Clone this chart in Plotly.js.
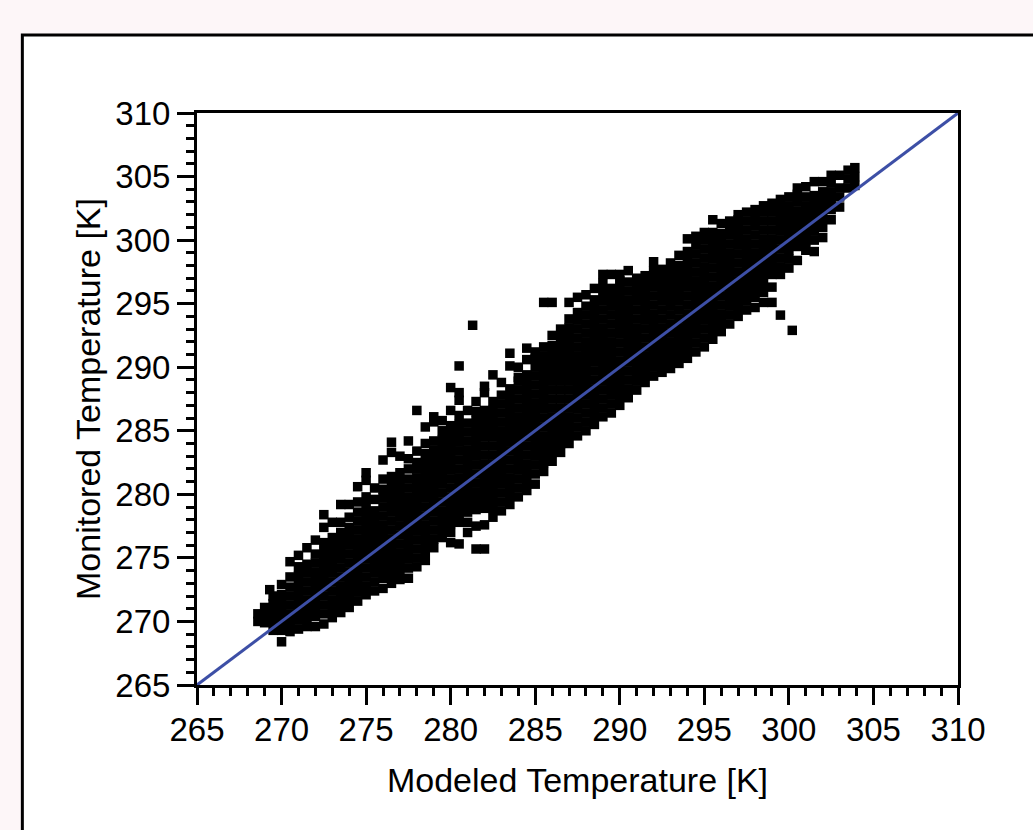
<!DOCTYPE html>
<html>
<head>
<meta charset="utf-8">
<script src="https://cdn.plot.ly/plotly-3.0.1.min.js"></script>
<style>
  html, body { margin: 0; padding: 0; background: #fdf6f8; }
  #chart { width: 1033px; height: 830px; }
</style>
</head>
<body>
<div id="chart"></div>
<script>
// Modeled temperature [K] of each column of points
const modeledColumns = [
  268.6, 269.0, 269.5, 270.0, 270.5, 271.0, 271.5, 272.0, 272.5, 273.0,
  273.5, 274.0, 274.5, 275.0, 275.5, 276.0, 276.5, 277.0, 277.5, 278.0,
  278.5, 279.0, 279.5, 280.0, 280.5, 281.0, 281.5, 282.0, 282.5, 283.0,
  283.5, 284.0, 284.5, 285.0, 285.5, 286.0, 286.5, 287.0, 287.5, 288.0,
  288.5, 289.0, 289.5, 290.0, 290.5, 291.0, 291.5, 292.0, 292.5, 293.0,
  293.5, 294.0, 294.5, 295.0, 295.5, 296.0, 296.5, 297.0, 297.5, 298.0,
  298.5, 299.0, 299.5, 300.0, 300.5, 301.0, 301.5, 302.0, 302.5, 303.0,
  303.5, 303.9
];
// Monitored temperature [K] of the points in each column
const monitoredByColumn = [
  [270.0, 270.6],
  [269.9, 270.6, 271.1],
  [269.3, 270.0, 270.7, 271.4, 272.0],
  [268.4, 269.3, 270.0, 270.7, 271.4, 272.1, 272.9],
  [269.2, 269.9, 270.6, 271.3, 272.0, 272.7, 273.5, 274.7],
  [269.4, 270.1, 270.8, 271.5, 272.2, 272.9, 273.6, 274.3, 275.2],
  [269.6, 270.3, 271.0, 271.7, 272.4, 273.1, 273.8, 274.5, 275.8],
  [269.6, 270.4, 271.1, 271.8, 272.5, 273.2, 273.9, 274.6, 275.3, 276.4],
  [269.8, 270.6, 271.3, 272.0, 272.7, 273.4, 274.1, 274.8, 275.5, 276.2, 277.4, 278.4],
  [270.3, 271.0, 271.7, 272.4, 273.1, 273.8, 274.5, 275.2, 275.9, 276.6, 277.8],
  [270.7, 271.4, 272.1, 272.8, 273.5, 274.2, 274.9, 275.6, 276.3, 277.0, 277.8, 279.2],
  [271.1, 271.8, 272.5, 273.2, 273.9, 274.6, 275.3, 276.0, 276.7, 277.4, 278.2, 279.2],
  [271.6, 272.3, 273.0, 273.7, 274.4, 275.1, 275.8, 276.5, 277.2, 277.9, 278.6, 279.4, 280.6],
  [272.1, 272.8, 273.5, 274.2, 274.9, 275.6, 276.3, 277.0, 277.7, 278.4, 279.1, 279.8, 281.1, 281.7],
  [272.4, 273.1, 273.8, 274.5, 275.2, 275.9, 276.6, 277.3, 278.0, 278.7, 279.6, 280.5],
  [272.6, 273.4, 274.1, 274.8, 275.5, 276.2, 276.9, 277.6, 278.3, 279.0, 279.7, 280.4, 281.2, 282.7],
  [273.0, 273.7, 274.4, 275.1, 275.8, 276.5, 277.2, 277.9, 278.6, 279.3, 280.0, 280.7, 281.4, 283.3, 284.1],
  [273.3, 274.0, 274.7, 275.4, 276.1, 276.8, 277.5, 278.2, 278.9, 279.6, 280.3, 281.0, 281.7, 283.0],
  [273.4, 274.2, 274.9, 275.6, 276.3, 277.0, 277.7, 278.4, 279.1, 279.8, 280.5, 281.2, 282.0, 282.8, 284.2],
  [274.3, 275.0, 275.7, 276.4, 277.1, 277.8, 278.5, 279.2, 279.9, 280.6, 281.3, 282.0, 282.5, 283.4, 286.6],
  [274.8, 275.5, 276.2, 276.9, 277.6, 278.3, 279.0, 279.7, 280.4, 281.1, 281.8, 282.5, 283.2, 284.0, 285.3],
  [275.8, 276.5, 277.2, 277.9, 278.6, 279.3, 280.0, 280.7, 281.4, 282.1, 282.8, 283.5, 284.2, 285.7, 286.1],
  [276.6, 277.3, 278.0, 278.7, 279.4, 280.1, 280.8, 281.5, 282.2, 282.9, 283.6, 284.3, 285.0, 285.8],
  [276.2, 277.0, 277.7, 278.4, 279.1, 279.8, 280.5, 281.2, 281.9, 282.6, 283.3, 284.0, 284.7, 285.4, 286.6, 288.4],
  [276.1, 277.8, 278.5, 279.2, 279.9, 280.6, 281.3, 282.0, 282.7, 283.4, 284.1, 284.8, 285.5, 286.2, 287.4, 288.0, 290.1],
  [277.0, 277.8, 278.6, 279.3, 280.0, 280.7, 281.4, 282.1, 282.8, 283.5, 284.2, 284.9, 285.6, 286.6],
  [275.7, 277.5, 278.8, 279.5, 280.2, 280.9, 281.6, 282.3, 283.0, 283.7, 284.4, 285.1, 285.8, 286.5, 287.3],
  [275.7, 277.6, 278.9, 279.6, 280.3, 281.0, 281.7, 282.4, 283.1, 283.8, 284.5, 285.2, 285.9, 286.6, 288.0, 288.5],
  [278.2, 278.9, 279.6, 280.3, 281.0, 281.7, 282.4, 283.1, 283.8, 284.5, 285.2, 285.9, 286.6, 287.3, 289.4],
  [278.7, 279.4, 280.1, 280.8, 281.5, 282.2, 282.9, 283.6, 284.3, 285.0, 285.7, 286.4, 287.1, 287.8, 288.8],
  [279.2, 279.9, 280.6, 281.3, 282.0, 282.7, 283.4, 284.1, 284.8, 285.5, 286.2, 286.9, 287.6, 288.3, 290.1, 291.1],
  [279.8, 280.5, 281.2, 281.9, 282.6, 283.3, 284.0, 284.7, 285.4, 286.1, 286.8, 287.5, 288.2, 288.9, 289.2, 290.0],
  [280.3, 281.0, 281.7, 282.4, 283.1, 283.8, 284.5, 285.2, 285.9, 286.6, 287.3, 288.0, 288.7, 289.4, 290.6, 291.5],
  [280.8, 281.6, 282.3, 283.0, 283.7, 284.4, 285.1, 285.8, 286.5, 287.2, 287.9, 288.6, 289.3, 290.0, 290.7, 291.2],
  [281.8, 282.5, 283.2, 283.9, 284.6, 285.3, 286.0, 286.7, 287.4, 288.1, 288.8, 289.5, 290.2, 290.9, 291.6, 295.1],
  [282.6, 283.3, 284.0, 284.7, 285.4, 286.1, 286.8, 287.5, 288.2, 288.9, 289.6, 290.3, 291.0, 291.7, 292.5, 295.1],
  [283.3, 284.0, 284.7, 285.4, 286.1, 286.8, 287.5, 288.2, 288.9, 289.6, 290.3, 291.0, 291.7, 292.4, 293.0],
  [284.0, 284.7, 285.4, 286.1, 286.8, 287.5, 288.2, 288.9, 289.6, 290.3, 291.0, 291.7, 292.4, 293.1, 293.8, 295.1],
  [284.6, 285.3, 286.0, 286.7, 287.4, 288.1, 288.8, 289.5, 290.2, 290.9, 291.6, 292.3, 293.0, 293.7, 294.3, 295.5],
  [285.0, 285.7, 286.4, 287.1, 287.8, 288.5, 289.2, 289.9, 290.6, 291.3, 292.0, 292.7, 293.4, 294.1, 294.8, 295.7],
  [285.5, 286.2, 286.9, 287.6, 288.3, 289.0, 289.7, 290.4, 291.1, 291.8, 292.5, 293.2, 293.9, 294.6, 295.3, 296.2],
  [286.1, 286.8, 287.5, 288.2, 288.9, 289.6, 290.3, 291.0, 291.7, 292.4, 293.1, 293.8, 294.5, 295.2, 295.9, 296.6, 297.3],
  [286.4, 287.1, 287.8, 288.5, 289.2, 289.9, 290.6, 291.3, 292.0, 292.7, 293.4, 294.1, 294.8, 295.5, 296.2, 297.3],
  [287.0, 287.7, 288.4, 289.1, 289.8, 290.5, 291.2, 291.9, 292.6, 293.3, 294.0, 294.7, 295.4, 296.1, 296.8, 297.3],
  [287.6, 288.3, 289.0, 289.7, 290.4, 291.1, 291.8, 292.5, 293.2, 293.9, 294.6, 295.3, 296.0, 296.7, 297.6],
  [288.2, 288.9, 289.6, 290.3, 291.0, 291.7, 292.4, 293.1, 293.8, 294.5, 295.2, 295.9, 296.5, 297.0],
  [288.8, 289.5, 290.2, 290.9, 291.6, 292.3, 293.0, 293.7, 294.4, 295.1, 295.8, 296.5, 297.2],
  [289.3, 290.0, 290.7, 291.4, 292.1, 292.8, 293.5, 294.2, 294.9, 295.6, 296.3, 297.0, 297.6, 298.3],
  [289.6, 290.3, 291.0, 291.7, 292.4, 293.1, 293.8, 294.5, 295.2, 295.9, 296.6, 297.3, 297.7],
  [289.9, 290.6, 291.3, 292.0, 292.7, 293.4, 294.1, 294.8, 295.5, 296.2, 296.9, 297.6, 298.2],
  [290.3, 291.0, 291.7, 292.4, 293.1, 293.8, 294.5, 295.2, 295.9, 296.6, 297.3, 298.0, 298.8],
  [290.7, 291.4, 292.1, 292.8, 293.5, 294.2, 294.9, 295.6, 296.3, 297.0, 297.7, 298.4, 299.1, 300.1],
  [291.2, 291.9, 292.6, 293.3, 294.0, 294.7, 295.4, 296.1, 296.8, 297.5, 298.2, 298.9, 299.6, 300.3],
  [291.6, 292.3, 293.0, 293.7, 294.4, 295.1, 295.8, 296.5, 297.2, 297.9, 298.6, 299.3, 300.0, 300.6],
  [292.2, 292.9, 293.6, 294.3, 295.0, 295.7, 296.4, 297.1, 297.8, 298.5, 299.2, 299.9, 300.6, 301.6],
  [292.8, 293.5, 294.2, 294.9, 295.6, 296.3, 297.0, 297.7, 298.4, 299.1, 299.8, 300.5, 301.3],
  [293.4, 294.1, 294.8, 295.5, 296.2, 296.9, 297.6, 298.3, 299.0, 299.7, 300.4, 301.0, 301.5],
  [294.0, 294.7, 295.4, 296.1, 296.8, 297.5, 298.2, 298.9, 299.6, 300.3, 301.0, 301.6, 302.0],
  [294.5, 295.2, 295.9, 296.6, 297.3, 298.0, 298.7, 299.4, 300.1, 300.8, 301.5, 302.2],
  [294.7, 295.5, 296.2, 296.9, 297.6, 298.3, 299.0, 299.7, 300.4, 301.1, 301.8, 302.4],
  [295.1, 295.9, 296.6, 297.3, 298.0, 298.7, 299.4, 300.1, 300.8, 301.5, 302.2, 302.7],
  [295.1, 296.3, 297.3, 298.0, 298.7, 299.4, 300.1, 300.8, 301.5, 302.2, 302.9],
  [294.1, 297.3, 297.9, 298.6, 299.3, 300.0, 300.7, 301.4, 302.1, 302.8, 303.2],
  [297.8, 298.5, 299.2, 299.9, 300.6, 301.3, 302.0, 302.7, 303.4],
  [298.4, 299.5, 300.2, 300.9, 301.6, 302.3, 303.0, 303.6, 304.1],
  [299.2, 299.9, 300.6, 301.3, 302.0, 302.7, 303.4, 304.2],
  [299.1, 300.0, 300.7, 301.4, 302.1, 302.8, 303.5, 304.6],
  [300.2, 301.0, 301.7, 302.4, 303.1, 303.8, 304.6],
  [301.6, 302.4, 303.1, 303.8, 304.5, 305.1],
  [302.6, 303.4, 304.1, 305.1],
  [304.1, 304.8, 305.5],
  [304.3, 305.0, 305.7]
];
// isolated points
const outlierModeled   = [269.3, 281.3, 300.2];
const outlierMonitored = [272.5, 293.3, 292.9];
// 1:1 reference line
const lineModeled   = [265, 310];
const lineMonitored = [265, 310];

const xs = [], ys = [];
modeledColumns.forEach((m, i) => {
  monitoredByColumn[i].forEach(v => { xs.push(m); ys.push(v); });
});
outlierModeled.forEach((m, i) => { xs.push(m); ys.push(outlierMonitored[i]); });

const FONT = 'Arial, "Liberation Sans", sans-serif';

const traces = [
  {
    x: xs, y: ys, type: 'scatter', mode: 'markers',
    marker: { symbol: 'square', size: 9.5, color: '#000000', line: { width: 0 } },
    hoverinfo: 'x+y'
  },
  {
    x: lineModeled, y: lineMonitored, type: 'scatter', mode: 'lines',
    line: { color: '#3d4fa6', width: 3 }, cliponaxis: false, hoverinfo: 'skip'
  }
];

const axisCommon = {
  range: [265, 310],
  dtick: 5, tick0: 265,
  ticks: 'outside', ticklen: 17, tickwidth: 3, tickcolor: '#000',
  showline: true, linewidth: 3, linecolor: '#000', mirror: true,
  showgrid: false, zeroline: false,
  tickfont: { family: FONT, size: 33, color: '#000' },
  minor: { dtick: 1, ticks: 'outside', ticklen: 8, tickwidth: 3, tickcolor: '#000', showgrid: false }
};

const layout = {
  width: 1033, height: 830,
  margin: { l: 197, r: 75, t: 113, b: 145, pad: 0 },
  paper_bgcolor: '#fdf6f8',
  plot_bgcolor: '#ffffff',
  showlegend: false,
  xaxis: Object.assign({}, axisCommon, {
    ticklabelstandoff: -4,
    title: { text: 'Modeled Temperature [K]', font: { family: FONT, size: 34, color: '#000' }, standoff: 22 }
  }),
  yaxis: Object.assign({}, axisCommon, {
    title: { text: 'Monitored Temperature [K]', font: { family: FONT, size: 34, color: '#000' }, standoff: 5 }
  }),
  shapes: [
    {
      type: 'rect', xref: 'paper', yref: 'paper', layer: 'below',
      x0: -0.2295, x1: 1.2, y0: -0.4, y1: 1.1364,
      fillcolor: '#ffffff', line: { color: '#000', width: 3 }
    }
  ]
};

Plotly.newPlot('chart', traces, layout, { displayModeBar: false, staticPlot: true });
</script>
</body>
</html>
